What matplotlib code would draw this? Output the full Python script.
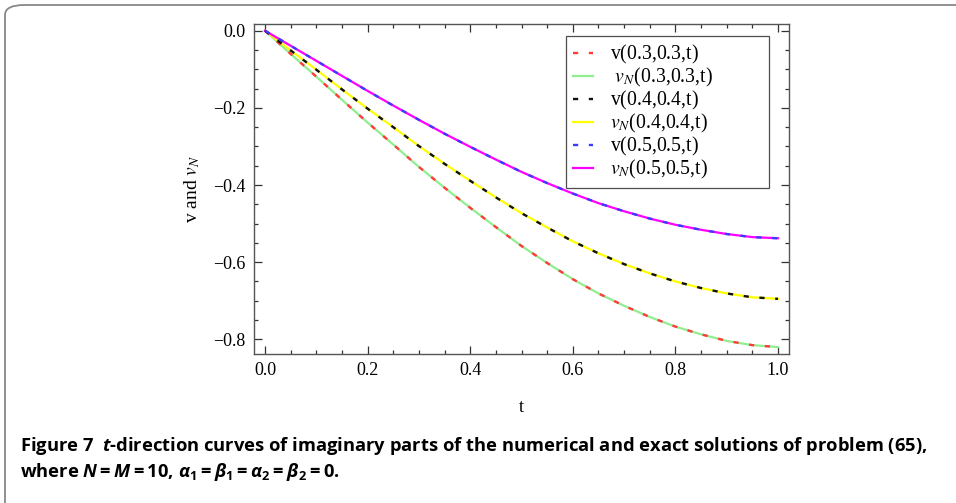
import numpy as np
import matplotlib.pyplot as plt
from matplotlib.patches import FancyBboxPatch

plt.rcParams['font.family'] = 'Liberation Serif'
plt.rcParams['mathtext.fontset'] = 'custom'
plt.rcParams['mathtext.rm'] = 'Open Sans:bold'
plt.rcParams['mathtext.it'] = 'Open Sans:italic:bold'
plt.rcParams['mathtext.bf'] = 'Open Sans:bold'

# Datos
t = np.array([0.0, 0.05, 0.1, 0.15, 0.2, 0.25, 0.3, 0.35, 0.4, 0.45, 0.5,
              0.55, 0.6, 0.65, 0.7, 0.75, 0.8, 0.85, 0.9, 0.95, 1.0])
v_03 = np.array([0, -0.060, -0.119, -0.179, -0.238, -0.295, -0.353, -0.407, -0.459, -0.509, -0.558,
                 -0.602, -0.644, -0.681, -0.713, -0.742, -0.767, -0.787, -0.804, -0.815, -0.820])
v_04 = np.array([0, -0.051, -0.101, -0.152, -0.202, -0.250, -0.299, -0.345, -0.389, -0.432, -0.473,
                 -0.510, -0.546, -0.577, -0.605, -0.629, -0.650, -0.667, -0.681, -0.691, -0.695])
v_05 = np.array([0, -0.039, -0.078, -0.117, -0.156, -0.194, -0.231, -0.267, -0.301, -0.334, -0.366,
                 -0.395, -0.422, -0.447, -0.468, -0.487, -0.503, -0.516, -0.527, -0.535, -0.538])
# solucion numerica (coincide con la exacta)
vN_03 = v_03.copy()
vN_04 = v_04.copy()
vN_05 = v_05.copy()

fig = plt.figure(figsize=(9.56, 5.03), dpi=100)

# marco redondeado de la figura
marco = FancyBboxPatch((5 / 956, -0.05), 1.2, 1 - 5 / 503 + 0.05,
                       boxstyle='round,pad=0,rounding_size=0.02',
                       transform=fig.transFigure, fill=False,
                       edgecolor='#888888', linewidth=1.3, clip_on=False)
fig.patches.append(marco)

ax = fig.add_axes([254 / 956, 1 - 354 / 503, 535 / 956, 330 / 503])

dash = (0, (2.2, 4.5))
ax.plot(t, vN_03, color='#90ee90', lw=1.6, label=r' $v_N$(0.3,0.3,t)', zorder=2)
ax.plot(t, vN_04, color='#ffff00', lw=1.6, label=r'$v_N$(0.4,0.4,t)', zorder=2)
ax.plot(t, vN_05, color='#ff00ff', lw=1.6, label=r'$v_N$(0.5,0.5,t)', zorder=2)
ax.plot(t, v_03, color='#ff3b3b', lw=1.7, ls=dash, label=r'v(0.3,0.3,t)$\,$', zorder=3)
ax.plot(t, v_04, color='#111111', lw=1.7, ls=dash, label=r'v(0.4,0.4,t)$\,$', zorder=3)
ax.plot(t, v_05, color='#3b3bff', lw=1.7, ls=dash, label=r'v(0.5,0.5,t)$\,$', zorder=3)

ax.set_xlim(-0.0214, 1.0214)
ax.set_ylim(-0.838, 0.0174)
ax.set_xticks([0.0, 0.2, 0.4, 0.6, 0.8, 1.0])
ax.set_yticks([0.0, -0.2, -0.4, -0.6, -0.8])
ax.set_xticks(np.arange(0, 1.001, 0.05), minor=True)
ax.set_yticks(np.arange(-0.8, 0.001, 0.05), minor=True)
ax.set_xticklabels(['0.0', '0.2', '0.4', '0.6', '0.8', '1.0'])
ax.set_yticklabels(['0.0', '\u22120.2', '\u22120.4', '\u22120.6', '\u22120.8'])
ax.tick_params(which='both', direction='in', top=True, right=True,
               labelsize=13, color='#333333', width=0.9)
ax.tick_params(which='major', length=6, pad=6)
ax.tick_params(which='minor', length=3)
for s in ax.spines.values():
    s.set_color('#555555')
    s.set_linewidth(1.0)

ax.set_xlabel('t', fontsize=13, labelpad=14)
ax.set_ylabel(r'v and $v_N$', fontsize=14, labelpad=8,
              math_fontfamily='stix')

h, l = ax.get_legend_handles_labels()
orden = [3, 0, 4, 1, 5, 2]
leg = ax.legend([h[i] for i in orden], [l[i] for i in orden],
                loc='upper left', bbox_to_anchor=(0.583, 0.2, 0.3794, 0.7636),
                mode='expand',
                fontsize=14.2, frameon=True, fancybox=False, shadow=False,
                edgecolor='#222222', handlelength=1.0, handletextpad=0.9,
                labelspacing=0.0, borderpad=0.35, borderaxespad=0)
leg.get_frame().set_linewidth(0.9)
for txt in leg.get_texts():
    txt.set_math_fontfamily('stix')

# pie de figura
fig.text(20 / 956, 1 - 451 / 503,
         r'Figure 7  $t$-direction curves of imaginary parts of the numerical and exact solutions of problem (65),',
         fontsize=13.2, fontweight='bold', family='Open Sans', va='baseline')
fig.text(20 / 956, 1 - 477 / 503,
         r'where $N = M = 10$, $\alpha_1 = \beta_1 = \alpha_2 = \beta_2 = 0$.',
         fontsize=13.2, fontweight='bold', family='Open Sans', va='baseline')

fig.savefig('out.png', dpi=100)
